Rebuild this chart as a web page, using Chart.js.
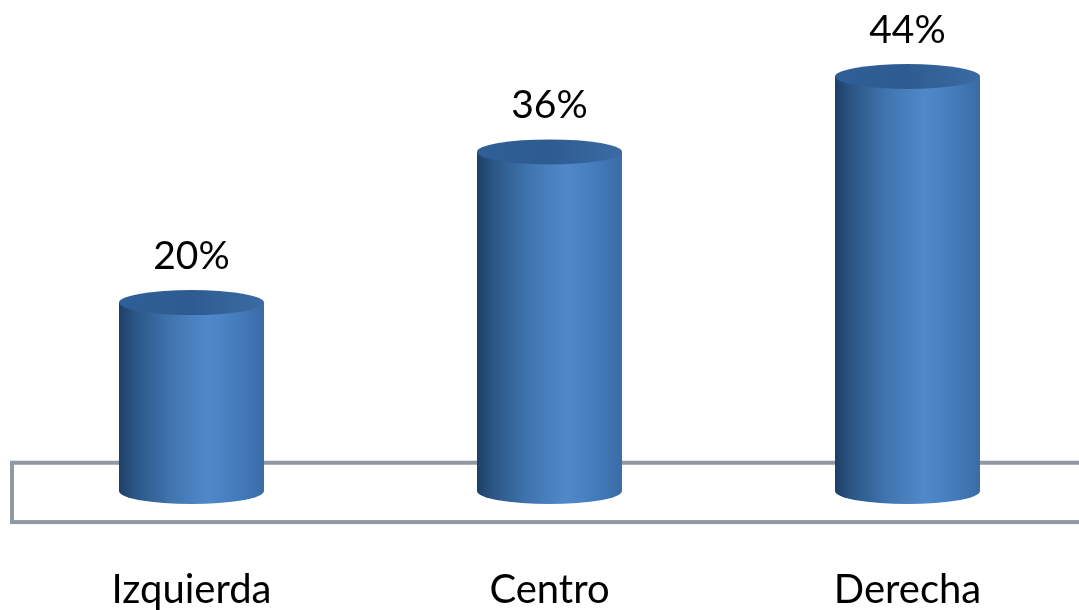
<!DOCTYPE html>
<html>
<head>
<meta charset="utf-8">
<style>
  html, body { margin: 0; padding: 0; background: #fff; overflow: hidden; }
  #wrap { width: 1079px; height: 610px; overflow: hidden; }
  canvas { display: block; }
</style>
<script src="https://cdn.jsdelivr.net/npm/chart.js@4"></script>
</head>
<body>
<div id="wrap"><canvas id="chart" width="1100" height="682"></canvas></div>
<script>
'use strict';

const categories = ['Izquierda', 'Centro', 'Derecha'];
const values = [20, 36, 44];

const FONT = 'Lato, "Liberation Sans", sans-serif';
const BAR_PCT = 0.405;

function sideGradient(ctx, left, right) {
  const g = ctx.createLinearGradient(left, 0, right, 0);
  g.addColorStop(0, '#1d3f66');
  g.addColorStop(0.1, '#2a5483');
  g.addColorStop(0.35, '#3f74ae');
  g.addColorStop(0.62, '#5089cb');
  g.addColorStop(0.85, '#4279b8');
  g.addColorStop(1, '#3a6ca6');
  return g;
}

// 床の枠
const floorBox = {
  id: 'floorBox',
  beforeDatasetsDraw(chart) {
    const c = chart.ctx, y = chart.scales.y;
    const top = y.getPixelForValue(3), bottom = y.getPixelForValue(-3.3);
    c.save();
    c.strokeStyle = '#8f98a3';
    c.lineWidth = 4;
    c.strokeRect(12, top, 1200, bottom - top);
    c.restore();
  }
};

// 円柱の上下の楕円とラベル
const cylinder = {
  id: 'cylinder',
  afterDatasetsDraw(chart) {
    const c = chart.ctx;
    const base = chart.scales.y.getPixelForValue(0);
    chart.getDatasetMeta(0).data.forEach((bar, i) => {
      const rx = bar.width / 2, left = bar.x - rx, right = bar.x + rx;
      c.save();
      // 下
      c.fillStyle = sideGradient(c, left, right);
      c.beginPath(); c.ellipse(bar.x, base, rx, 13, 0, 0, Math.PI * 2); c.fill();
      // 上
      const g = c.createLinearGradient(left, 0, right, 0);
      g.addColorStop(0, '#2f5f97');
      g.addColorStop(0.5, '#2e5c91');
      g.addColorStop(1, '#3b6ba4');
      c.fillStyle = g;
      c.beginPath(); c.ellipse(bar.x, bar.y, rx, 12.5, 0, 0, Math.PI * 2); c.fill();
      // 値
      c.fillStyle = '#000';
      c.font = '400 39px ' + FONT;
      c.textAlign = 'center';
      c.textBaseline = 'middle';
      c.fillText(values[i] + '%', bar.x, bar.y - 46);
      c.restore();
    });
  }
};

new Chart(document.getElementById('chart'), {
  type: 'bar',
  data: {
    labels: categories,
    datasets: [{
      data: values,
      backgroundColor: (ctx) => {
        const x = ctx.chart.scales.x;
        if (!x || ctx.dataIndex == null) return '#3f74ae';
        const cx = x.getPixelForValue(ctx.dataIndex);
        const w = (x.getPixelForValue(1) - x.getPixelForValue(0)) * BAR_PCT;
        if (!isFinite(cx) || !isFinite(w)) return '#3f74ae';
        return sideGradient(ctx.chart.ctx, cx - w / 2, cx + w / 2);
      },
      borderWidth: 0,
      barPercentage: BAR_PCT,
      categoryPercentage: 1
    }]
  },
  options: {
    responsive: false,
    animation: false,
    devicePixelRatio: 1,
    layout: { padding: { left: 12.5, right: 13.5, top: 20, bottom: 0 } },
    plugins: { legend: { display: false }, tooltip: { enabled: false } },
    scales: {
      x: {
        grid: { display: false },
        border: { display: false },
        ticks: { color: '#000', font: { family: FONT, size: 40, weight: '400' }, padding: 67.5, maxRotation: 0, autoSkip: false }
      },
      y: { display: false, min: 0, max: 50 }
    }
  },
  plugins: [floorBox, cylinder]
});
</script>
</body>
</html>
